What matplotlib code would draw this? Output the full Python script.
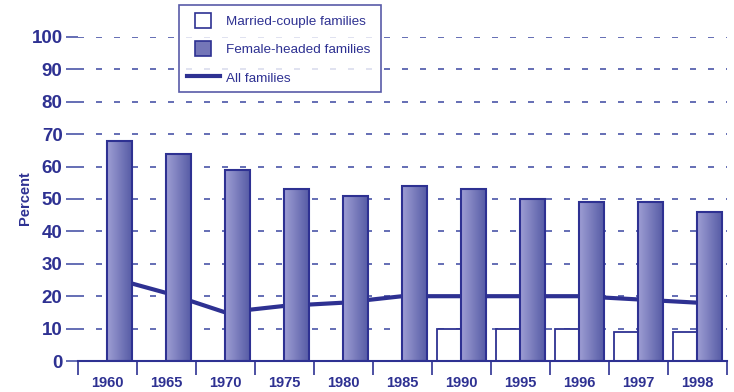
import numpy as np
import matplotlib
matplotlib.use("Agg")
import matplotlib.pyplot as plt
from matplotlib.patches import Patch, Rectangle
from matplotlib.lines import Line2D
from matplotlib.legend_handler import HandlerPatch

years = ["1960", "1965", "1970", "1975", "1980", "1985", "1990", "1995", "1996", "1997", "1998"]
married = [0, 0, 0, 0, 0, 0, 10, 10, 10, 9, 9]
female = [68, 64, 59, 53, 51, 54, 53, 50, 49, 49, 46]
all_fam = [26, 21, 15, 17, 18, 20, 20, 20, 20, 19, 18]
yticks = [0, 10, 20, 30, 40, 50, 60, 70, 80, 90, 100]

navy = "#2E3192"
grid_blue = "#4A55A8"
light = np.array([0.62, 0.62, 0.83])
dark = np.array([0.34, 0.36, 0.65])
fam = ["Liberation Sans", "DejaVu Sans"]

fig = plt.figure(figsize=(7.34, 3.92), dpi=100)
ax = fig.add_axes([0.106, 0.079, 0.884, 0.827])

x = np.arange(len(years))
w = 0.415

for yv in yticks[1:]:
    ax.axhline(yv, color=grid_blue, lw=1.2, ls=(0, (3.6, 7.2)), zorder=0.5)

ax.plot(x, all_fam, color=navy, lw=3, zorder=2, solid_capstyle="butt")

# married-couple bars (white, outlined)
mb = ax.bar(x - w / 2, married, width=w, facecolor="white", edgecolor=navy, lw=1.3, zorder=3)
for b, v in zip(mb, married):
    if v == 0:
        b.set_visible(False)

# female-headed bars with horizontal gradient
grad = np.linspace(0, 1, 64)
img = light[None, :] * (1 - grad[:, None]) + dark[None, :] * grad[:, None]
img = img[None, :, :]
fb = ax.bar(x + w / 2, female, width=w, facecolor="none", edgecolor=navy, lw=1.5, zorder=4)
for b in fb:
    x0, y0 = b.get_x(), b.get_y()
    im = ax.imshow(img, extent=[x0, x0 + b.get_width(), y0, y0 + b.get_height()],
                   aspect="auto", zorder=3.5, interpolation="bilinear")
    im.set_clip_path(b)

ax.set_xlim(-0.5, 10.5)
ax.set_ylim(0, 100)

for s in ["top", "right", "left"]:
    ax.spines[s].set_visible(False)
ax.spines["bottom"].set_color(navy)
ax.spines["bottom"].set_linewidth(1.5)
ax.spines["bottom"].set_zorder(5)

ax.set_yticks(yticks)
ax.set_yticklabels([str(v) for v in yticks], fontsize=13.5, fontweight="bold",
                   color=navy, family=fam)
ax.tick_params(axis="y", length=9, width=1.2, color=grid_blue, pad=2)

ax.set_xticks(np.arange(-0.5, 11, 1))
ax.set_xticklabels([])
ax.set_xticks(x, minor=True)
ax.set_xticklabels(years, minor=True, fontsize=10.5, fontweight="bold",
                   color=navy, family=fam)
ax.tick_params(axis="x", which="major", length=10, width=1.2, color=navy, direction="out")
ax.tick_params(axis="x", which="minor", length=0, pad=10.5)

fig.text(25 / 734, 0.495, "Percent", rotation=90, ha="center", va="center",
         fontsize=10.5, fontweight="bold", color=navy, family=fam)


def square(legend, orig_handle, xdescent, ydescent, width, height, fontsize):
    side = height
    return Rectangle((-xdescent + (width - side) / 2, -ydescent), side, side)


handles = [
    Patch(facecolor="white", edgecolor=navy, lw=1.2),
    Patch(facecolor="#7476B8", edgecolor=navy, lw=1.2),
    Line2D([0], [0], color=navy, lw=3),
]
labels = ["Married-couple families ", "Female-headed families ", "All families"]
leg = fig.legend(handles, labels, loc="upper left", bbox_to_anchor=(0.244, 0.987),
                 frameon=True, fancybox=False, prop={"family": fam, "size": 9.7},
                 labelcolor=navy, labelspacing=1.0, handlelength=2.45, handleheight=1.35,
                 handletextpad=0.45, borderpad=0.55, borderaxespad=0,
                 handler_map={Patch: HandlerPatch(patch_func=square)})
leg.get_frame().set_edgecolor(navy)
leg.get_frame().set_linewidth(1.2)
leg.set_zorder(10)

fig.savefig("out.png", dpi=100)
